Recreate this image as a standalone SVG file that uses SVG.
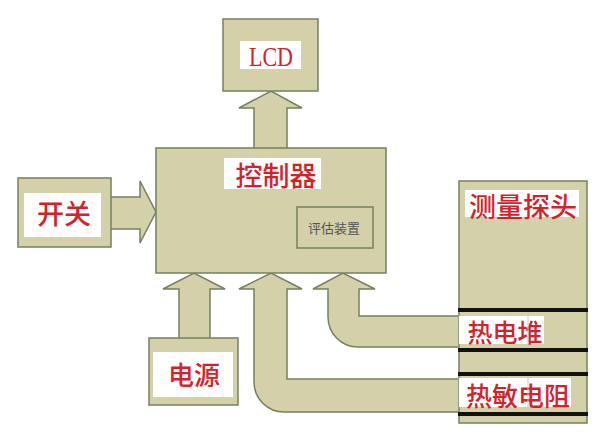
<svg xmlns="http://www.w3.org/2000/svg" width="600" height="435" viewBox="0 0 600 435">
<style>
.box{fill:#d4d0aa;stroke:#74805f;stroke-width:1.5}
.arrow{fill:#d4d0aa;stroke:#74805f;stroke-width:1.5;stroke-linejoin:miter}
.lbl{fill:#ffffff}
.t{font-family:"Noto Sans CJK SC","Noto Sans",sans-serif;font-weight:500;fill:#d2232a;text-anchor:middle;dominant-baseline:central}
.bar{stroke:#111;stroke-width:4}
</style>
<rect width="600" height="435" fill="#ffffff"/>
<g id="connectors">
  <path class="arrow" d="M254,148 V108 H239 L271,91 L302,108 H287 V148"/>
  <path class="arrow" d="M111,197 H140 V181 L156,212 L140,243 V229 H111"/>
  <path class="arrow" d="M179,338 V289 H163 L194,273 L225,289 H210 V338"/>
  <path class="arrow" d="M458,412 H284 A30,30 0 0 1 254,382 V289 H239 L271,273 L302,289 H287 V379 H458"/>
  <path class="arrow" d="M458,347 H358 A30,30 0 0 1 328,317 V289 H313 L343,273 L375,289 H359 V316 H458"/>
</g>
<g id="lcd">
  <rect class="box" x="223" y="19" width="95" height="72"/>
  <rect class="lbl" x="240" y="41" width="61" height="28"/>
  <text x="271" y="56" font-family="Liberation Serif,serif" font-size="28" fill="#d2232a" text-anchor="middle" dominant-baseline="central" textLength="44" lengthAdjust="spacingAndGlyphs">LCD</text>
</g>
<g id="controller">
  <rect class="box" x="156" y="148" width="230" height="125"/>
  <rect class="lbl" x="224" y="158" width="97" height="31"/>
  <text class="t" x="276" y="174" font-size="27">控制器</text>
  <g id="evaluator">
    <rect x="297" y="207" width="76" height="41" fill="none" stroke="#74805f" stroke-width="1.5"/>
    <text x="334" y="227" font-family="Noto Sans CJK SC,sans-serif" font-size="13" fill="#555" text-anchor="middle" dominant-baseline="central">评估装置</text>
  </g>
</g>
<g id="switch">
  <rect class="box" x="18" y="178" width="93" height="69"/>
  <rect class="lbl" x="24" y="193" width="77" height="44"/>
  <text class="t" x="64" y="212" font-size="27">开关</text>
</g>
<g id="power">
  <rect class="box" x="149" y="338" width="89" height="67"/>
  <rect class="lbl" x="153" y="352" width="80" height="45"/>
  <text class="t" x="194" y="373" font-size="26">电源</text>
</g>
<g id="probe">
  <rect class="box" x="459" y="181" width="128" height="242"/>
  <rect class="lbl" x="465" y="190" width="114" height="27"/>
  <text class="t" x="523" y="205" font-size="27">测量探头</text>
  <rect class="lbl" x="459" y="316" width="85" height="28"/>
  <text class="t" x="505" y="331" font-size="25">热电堆</text>
  <rect class="lbl" x="459" y="378" width="112" height="29"/>
  <text class="t" x="518" y="394" font-size="26">热敏电阻</text>
  <line x1="528" y1="310" x2="528" y2="350" stroke="#c8c8c0" stroke-width="1"/>
  <line x1="528" y1="374" x2="528" y2="414" stroke="#c8c8c0" stroke-width="1"/>
  <line class="bar" x1="458" y1="310" x2="588" y2="310"/>
  <line class="bar" x1="458" y1="350" x2="588" y2="350"/>
  <line class="bar" x1="458" y1="374" x2="588" y2="374"/>
  <line class="bar" x1="458" y1="414" x2="588" y2="414"/>
</g>
</svg>
